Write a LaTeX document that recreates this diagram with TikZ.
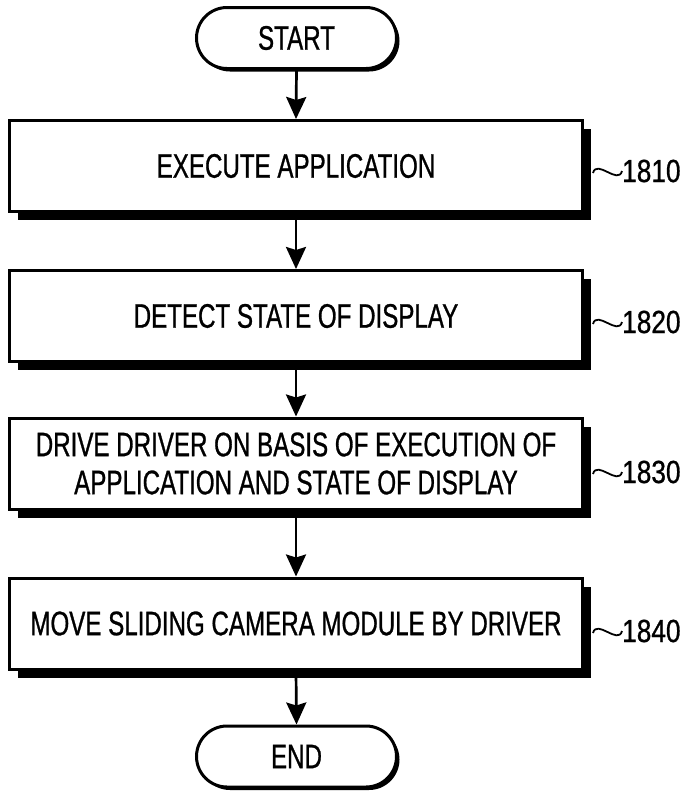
\documentclass[tikz,border=0pt]{standalone}
\usepackage{fontspec}
\setmainfont[FakeStretch=0.71,FakeBold=0.8]{Liberation Sans}
\newfontfamily\labfont[FakeStretch=0.82,FakeBold=0.8]{Liberation Sans}
\usetikzlibrary{shapes.misc,arrows.meta,shadows}
\begin{document}
\begin{tikzpicture}[x=1pt,y=1pt,
  stepbox/.style={draw, line width=3pt, fill=white, minimum width=573pt, minimum height=91pt,
    align=center, inner sep=0pt, font=\fontsize{34}{38}\selectfont,
    drop shadow={shadow xshift=8.5pt, shadow yshift=-8.5pt, fill=black, opacity=1}},
  term/.style={draw, rounded rectangle, line width=3pt, fill=white, minimum width=200pt,
    minimum height=61pt, inner sep=0pt, font=\fontsize{34}{38}\selectfont,
    drop shadow={shadow xshift=3pt, shadow yshift=-3pt, fill=black, opacity=1}},
  flow/.style={line width=2.7pt, -{Stealth[length=22pt,width=20pt,inset=3pt]}},
  reflabel/.style={anchor=west, inner sep=0pt, font=\labfont\fontsize{32}{32}\selectfont},
  tildeline/.style={line width=1.8pt, out=75, in=-105, looseness=1.3}
]
\useasboundingbox (0,0) rectangle (685,-796);

\node[term] (start) at (296.5,-38) {START};
\node[stepbox] (b1) at (296,-166) {EXECUTE APPLICATION};
\node[stepbox] (b2) at (296,-316) {DETECT STATE OF DISPLAY};
\node[stepbox] (b3) at (296,-463.5) {DRIVE DRIVER ON BASIS OF EXECUTION OF\\APPLICATION AND STATE OF DISPLAY};
\node[stepbox] (b4) at (296,-623.5) {MOVE SLIDING CAMERA MODULE BY DRIVER};
\node[term] (end) at (296.5,-756.5) {END};

\draw[flow] (start.south) -- (b1.north);
\draw[flow] (b1.south) -- (b2.north);
\draw[flow] (b2.south) -- (b3.north);
\draw[flow] (b3.south) -- (b4.north);
\draw[flow] (b4.south) -- (end.north);

\node[reflabel] (l1) at (622,-171) {1810};
\node[reflabel] (l2) at (622,-322) {1820};
\node[reflabel] (l3) at (622,-472) {1830};
\node[reflabel] (l4) at (622,-631) {1840};

\coordinate (t1) at (593,-173);
\coordinate (t2) at (593,-324);
\coordinate (t3) at (593,-474);
\coordinate (t4) at (593,-633);
\draw[tildeline] (t1) to (l1.west);
\draw[tildeline] (t2) to (l2.west);
\draw[tildeline] (t3) to (l3.west);
\draw[tildeline] (t4) to (l4.west);
\end{tikzpicture}
\end{document}
